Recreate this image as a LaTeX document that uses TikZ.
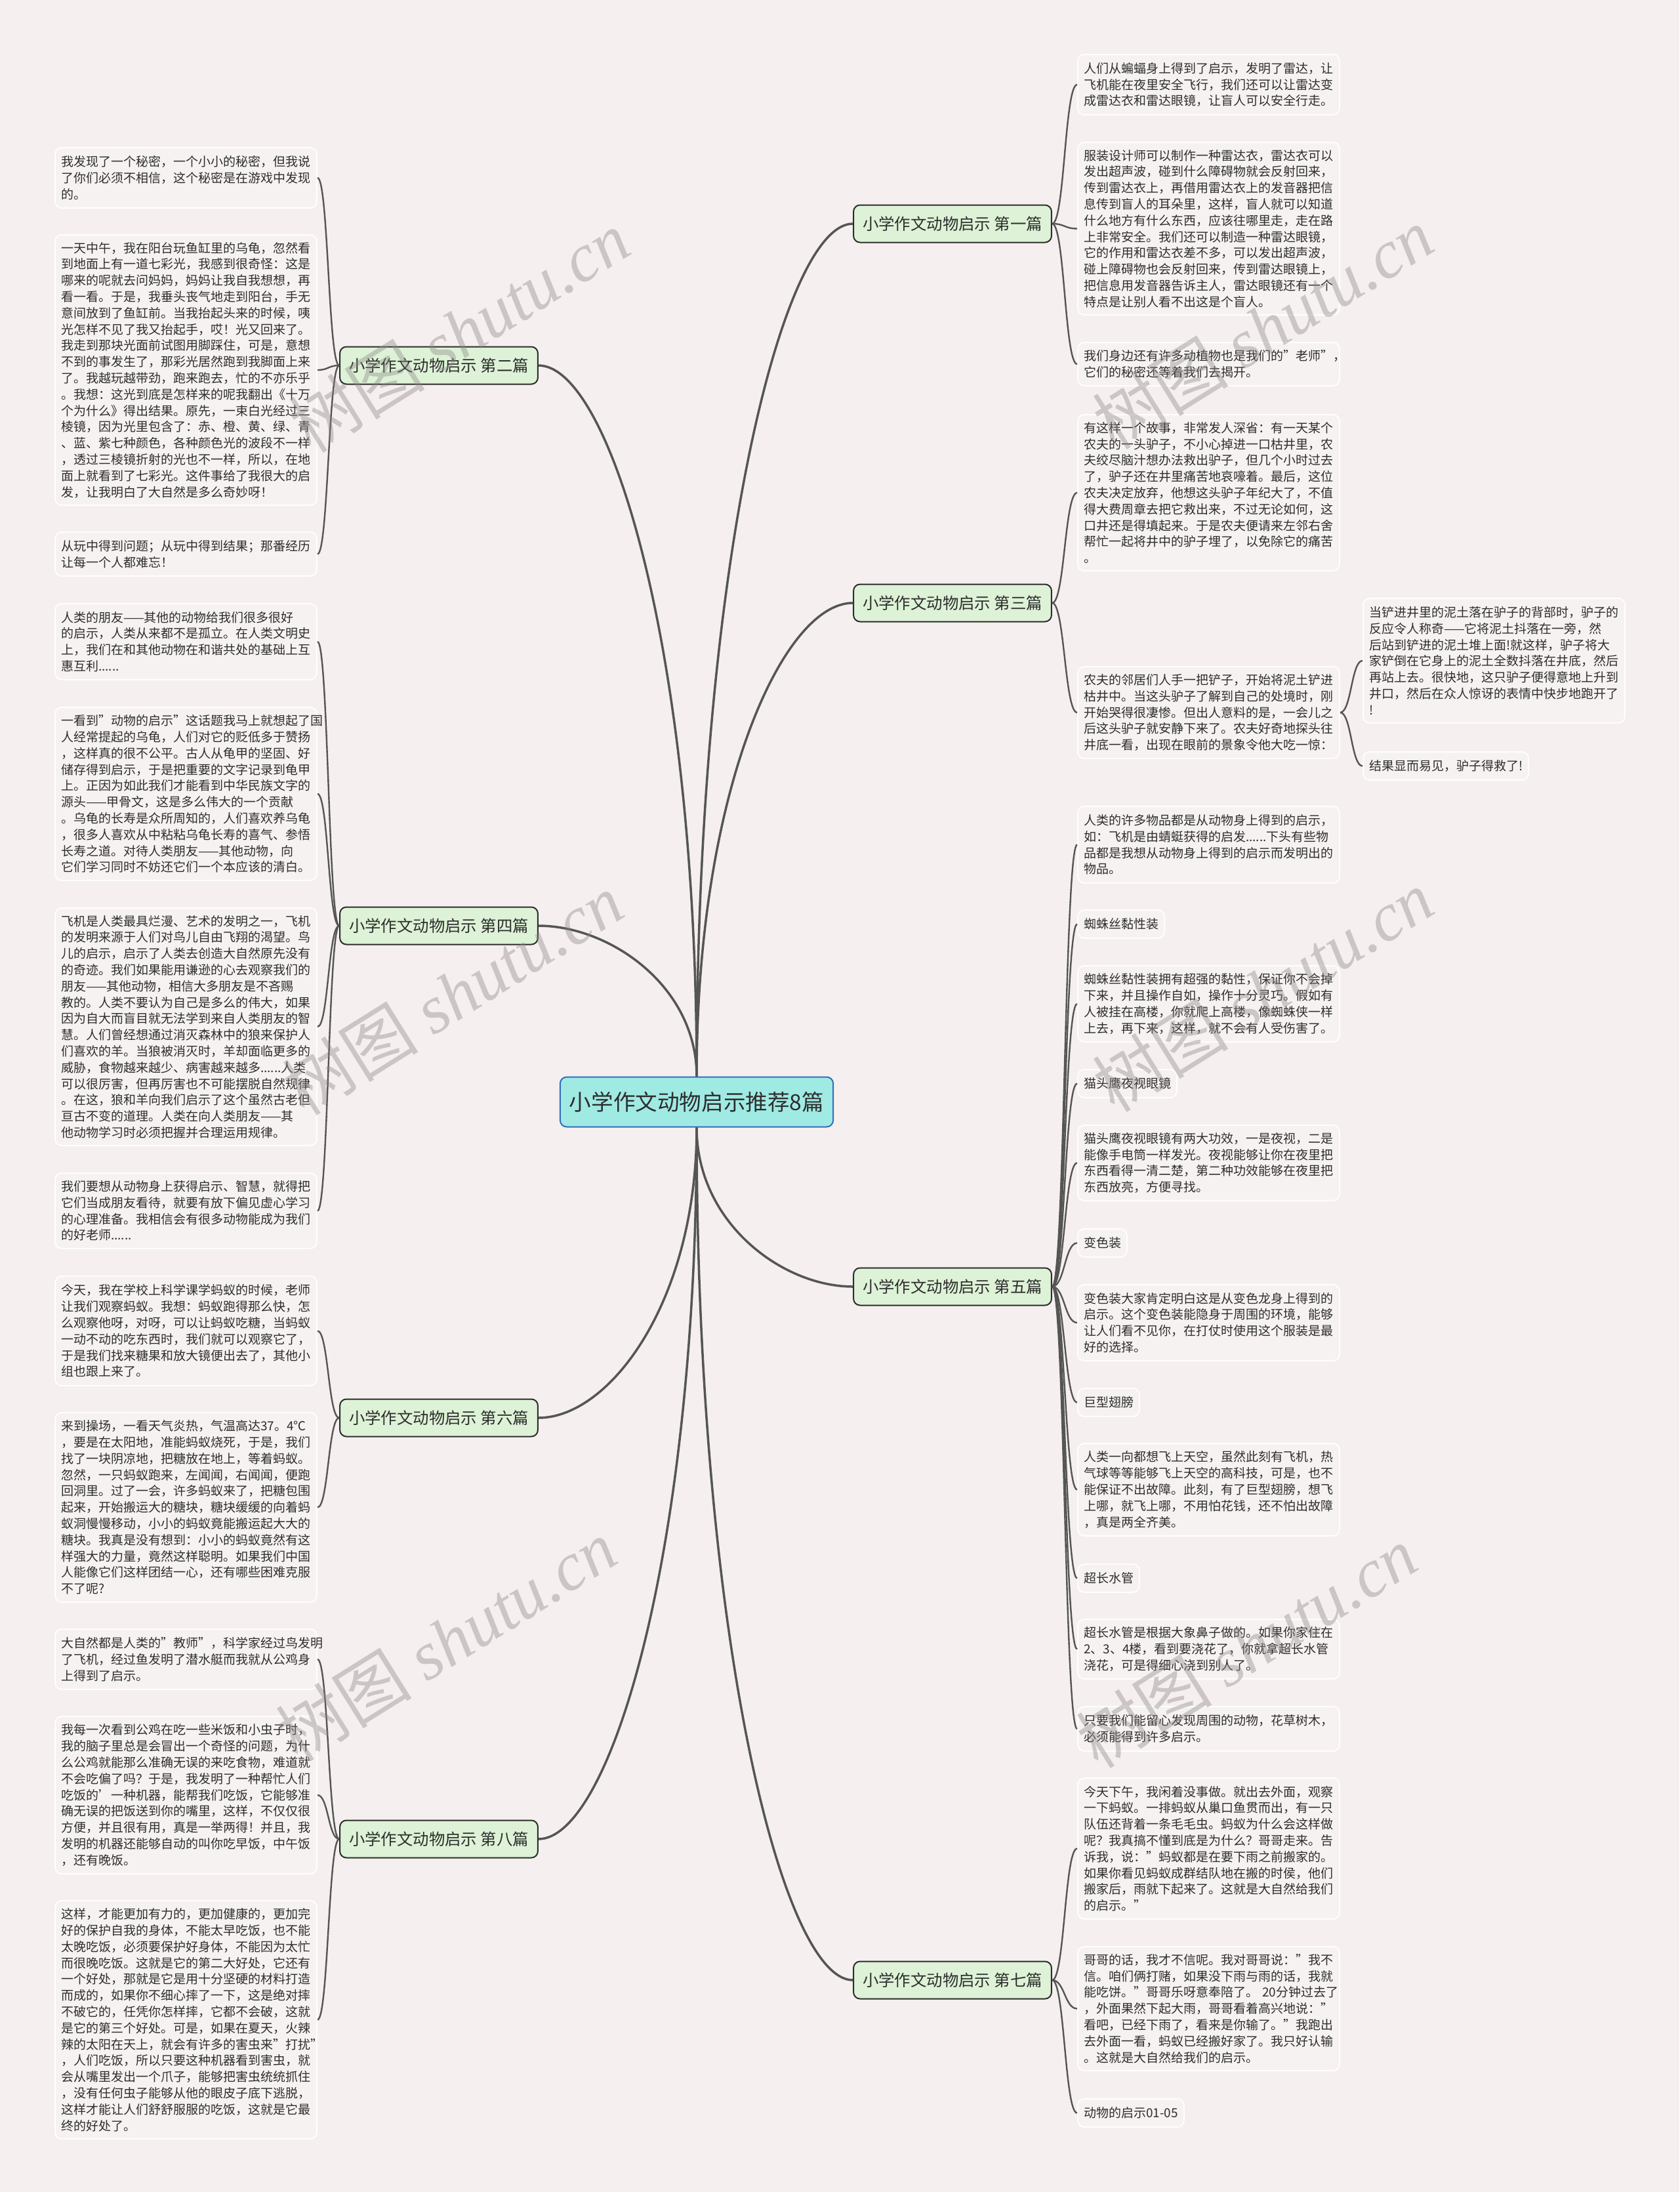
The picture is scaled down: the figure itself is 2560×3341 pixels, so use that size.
\documentclass[tikz,border=0pt]{standalone}
\usepackage{fontspec}
\setmainfont{Noto Sans CJK SC}
\newfontfamily\wmserif{Liberation Serif}
\usetikzlibrary{calc}
\definecolor{bgc}{RGB}{245,239,239}
\definecolor{leaffill}{RGB}{247,242,242}
\definecolor{leafdraw}{RGB}{255,253,253}
\definecolor{branchfill}{RGB}{221,242,214}
\definecolor{branchdraw}{RGB}{45,45,45}
\definecolor{rootfill}{RGB}{160,234,228}
\definecolor{rootdraw}{RGB}{50,110,190}
\definecolor{linec}{RGB}{85,85,85}
\definecolor{txt}{RGB}{45,45,45}
\definecolor{wmgray}{RGB}{140,135,135}
\begin{document}
\begin{tikzpicture}[x=0.5pt,y=-0.5pt,
  leafbase/.style={draw=leafdraw, line width=1pt, fill=leaffill, rounded corners=5pt,
    text=txt, font=\fontsize{9.5pt}{12.4pt}\selectfont, align=left,
    inner xsep=4.5pt, inner ysep=2pt, anchor=north west},
  leaf/.style={leafbase, text width=190.5pt},
  leafshort/.style={leafbase, minimum height=21.5pt},
  branch/.style={draw=branchdraw, line width=1pt, fill=branchfill, rounded corners=5pt,
    text=txt, font=\fontsize{12.2pt}{14pt}\selectfont, minimum width=150pt,
    minimum height=28.5pt, inner xsep=7pt},
  root/.style={draw=rootdraw, line width=1pt, fill=rootfill, rounded corners=5pt,
    text=txt, font=\fontsize{16.8pt}{19pt}\selectfont, minimum width=205.5pt,
    minimum height=38pt, inner xsep=7pt},
  mainline/.style={draw=linec, line width=1.75pt},
  subline/.style={draw=linec, line width=1.2pt},
  mainlink/.style={to path={.. controls ($(\tikztostart)!0.6!(\tikztostart |- \tikztotarget)$) and ($(\tikztotarget)!0.45!(\tikztostart |- \tikztotarget)$) .. (\tikztotarget) \tikztonodes}},
  sublink/.style={to path={.. controls ($(\tikztostart)!0.5!(\tikztotarget |- \tikztostart)$) and ($(\tikztotarget)!0.5!(\tikztostart |- \tikztotarget)$) .. (\tikztotarget) \tikztonodes}},
  wm/.style={text=wmgray, font=\fontsize{52pt}{52pt}\selectfont, rotate=32, inner sep=0pt}
]
\useasboundingbox (0,0) rectangle (2560,3341);
\fill[bgc] (0,0) rectangle (2560,3341);

% root and branches
\node[root] (root) at (1062,1679.5) {小学作文动物启示推荐8篇};
\node[branch] (b1) at (1452,341) {小学作文动物启示 第一篇};
\node[branch] (b2) at (669,557) {小学作文动物启示 第二篇};
\node[branch] (b3) at (1452,919) {小学作文动物启示 第三篇};
\node[branch] (b4) at (669,1411) {小学作文动物启示 第四篇};
\node[branch] (b5) at (1452,1961) {小学作文动物启示 第五篇};
\node[branch] (b6) at (669,2161) {小学作文动物启示 第六篇};
\node[branch] (b7) at (1452,3018) {小学作文动物启示 第七篇};
\node[branch] (b8) at (669,2803) {小学作文动物启示 第八篇};

% ---- left: 第二篇
\node[leaf, minimum height=46pt] (l2a) at (83,224) {我发现了一个秘密，一个小小的秘密，但我说\\了你们必须不相信，这个秘密是在游戏中发现\\的。};
\node[leaf, minimum height=206pt] (l2b) at (83,357) {一天中午，我在阳台玩鱼缸里的乌龟，忽然看\\到地面上有一道七彩光，我感到很奇怪：这是\\哪来的呢就去问妈妈，妈妈让我自我想想，再\\看一看。于是，我垂头丧气地走到阳台，手无\\意间放到了鱼缸前。当我抬起头来的时候，咦\\光怎样不见了我又抬起手，哎！光又回来了。\\我走到那块光面前试图用脚踩住，可是，意想\\不到的事发生了，那彩光居然跑到我脚面上来\\了。我越玩越带劲，跑来跑去，忙的不亦乐乎\\。我想：这光到底是怎样来的呢我翻出《十万\\个为什么》得出结果。原先，一束白光经过三\\棱镜，因为光里包含了：赤、橙、黄、绿、青\\、蓝、紫七种颜色，各种颜色光的波段不一样\\，透过三棱镜折射的光也不一样，所以，在地\\面上就看到了七彩光。这件事给了我很大的启\\发，让我明白了大自然是多么奇妙呀！};
\node[leaf, minimum height=33.5pt] (l2c) at (83,810) {从玩中得到问题；从玩中得到结果；那番经历\\让每一个人都难忘！};

% ---- left: 第四篇
\node[leaf, minimum height=58pt] (l4a) at (83,919) {人类的朋友——其他的动物给我们很多很好\\的启示，人类从来都不是孤立。在人类文明史\\上，我们在和其他动物在和谐共处的基础上互\\惠互利......};
\node[leaf, minimum height=132pt] (l4b) at (83,1077) {一看到"动物的启示"这话题我马上就想起了国\\人经常提起的乌龟，人们对它的贬低多于赞扬\\，这样真的很不公平。古人从龟甲的坚固、好\\储存得到启示，于是把重要的文字记录到龟甲\\上。正因为如此我们才能看到中华民族文字的\\源头——甲骨文，这是多么伟大的一个贡献\\。乌龟的长寿是众所周知的，人们喜欢养乌龟\\，很多人喜欢从中粘粘乌龟长寿的喜气、参悟\\长寿之道。对待人类朋友——其他动物，向\\它们学习同时不妨还它们一个本应该的清白。};
\node[leaf, minimum height=181pt] (l4c) at (83,1383) {飞机是人类最具烂漫、艺术的发明之一，飞机\\的发明来源于人们对鸟儿自由飞翔的渴望。鸟\\儿的启示，启示了人类去创造大自然原先没有\\的奇迹。我们如果能用谦逊的心去观察我们的\\朋友——其他动物，相信大多朋友是不吝赐\\教的。人类不要认为自己是多么的伟大，如果\\因为自大而盲目就无法学到来自人类朋友的智\\慧。人们曾经想通过消灭森林中的狼来保护人\\们喜欢的羊。当狼被消灭时，羊却面临更多的\\威胁，食物越来越少、病害越来越多......人类\\可以很厉害，但再厉害也不可能摆脱自然规律\\。在这，狼和羊向我们启示了这个虽然古老但\\亘古不变的道理。人类在向人类朋友——其\\他动物学习时必须把握并合理运用规律。};
\node[leaf, minimum height=57.5pt] (l4d) at (83,1787) {我们要想从动物身上获得启示、智慧，就得把\\它们当成朋友看待，就要有放下偏见虚心学习\\的心理准备。我相信会有很多动物能成为我们\\的好老师......};

% ---- left: 第六篇
\node[leaf, minimum height=83.5pt] (l6a) at (83,1944) {今天，我在学校上科学课学蚂蚁的时候，老师\\让我们观察蚂蚁。我想：蚂蚁跑得那么快，怎\\么观察他呀，对呀，可以让蚂蚁吃糖，当蚂蚁\\一动不动的吃东西时，我们就可以观察它了，\\于是我们找来糖果和放大镜便出去了，其他小\\组也跟上来了。};
\node[leaf, minimum height=144.5pt] (l6b) at (83,2152) {来到操场，一看天气炎热，气温高达37。4℃\\，要是在太阳地，准能蚂蚁烧死，于是，我们\\找了一块阴凉地，把糖放在地上，等着蚂蚁。\\忽然，一只蚂蚁跑来，左闻闻，右闻闻，便跑\\回洞里。过了一会，许多蚂蚁来了，把糖包围\\起来，开始搬运大的糖块，糖块缓缓的向着蚂\\蚁洞慢慢移动，小小的蚂蚁竟能搬运起大大的\\糖块。我真是没有想到：小小的蚂蚁竟然有这\\样强大的力量，竟然这样聪明。如果我们中国\\人能像它们这样团结一心，还有哪些困难克服\\不了呢?};

% ---- left: 第八篇
\node[leaf, minimum height=46pt] (l8a) at (83,2482) {大自然都是人类的"教师"，科学家经过鸟发明\\了飞机，经过鱼发明了潜水艇而我就从公鸡身\\上得到了启示。};
\node[leaf, minimum height=120pt] (l8b) at (83,2615) {我每一次看到公鸡在吃一些米饭和小虫子时，\\我的脑子里总是会冒出一个奇怪的问题，为什\\么公鸡就能那么准确无误的来吃食物，难道就\\不会吃偏了吗？于是，我发明了一种帮忙人们\\吃饭的'一种机器，能帮我们吃饭，它能够准\\确无误的把饭送到你的嘴里，这样，不仅仅很\\方便，并且很有用，真是一举两得！并且，我\\发明的机器还能够自动的叫你吃早饭，中午饭\\，还有晚饭。};
\node[leaf, minimum height=181.5pt] (l8c) at (83,2896) {这样，才能更加有力的，更加健康的，更加完\\好的保护自我的身体，不能太早吃饭，也不能\\太晚吃饭，必须要保护好身体，不能因为太忙\\而很晚吃饭。这就是它的第二大好处，它还有\\一个好处，那就是它是用十分坚硬的材料打造\\而成的，如果你不细心摔了一下，这是绝对摔\\不破它的，任凭你怎样摔，它都不会破，这就\\是它的第三个好处。可是，如果在夏天，火辣\\辣的太阳在天上，就会有许多的害虫来"打扰"\\，人们吃饭，所以只要这种机器看到害虫，就\\会从嘴里发出一个爪子，能够把害虫统统抓住\\，没有任何虫子能够从他的眼皮子底下逃脱，\\这样才能让人们舒舒服服的吃饭，这就是它最\\终的好处了。};

% ---- right: 第一篇
\node[leaf, minimum height=46pt] (r1a) at (1642,82) {人们从蝙蝠身上得到了启示，发明了雷达，让\\飞机能在夜里安全飞行，我们还可以让雷达变\\成雷达衣和雷达眼镜，让盲人可以安全行走。};
\node[leaf, minimum height=131.5pt] (r1b) at (1642,216) {服装设计师可以制作一种雷达衣，雷达衣可以\\发出超声波，碰到什么障碍物就会反射回来，\\传到雷达衣上，再借用雷达衣上的发音器把信\\息传到盲人的耳朵里，这样，盲人就可以知道\\什么地方有什么东西，应该往哪里走，走在路\\上非常安全。我们还可以制造一种雷达眼镜，\\它的作用和雷达衣差不多，可以发出超声波，\\碰上障碍物也会反射回来，传到雷达眼镜上，\\把信息用发音器告诉主人，雷达眼镜还有一个\\特点是让别人看不出这是个盲人。};
\node[leaf, minimum height=33pt] (r1c) at (1642,521) {我们身边还有许多动植物也是我们的"老师"，\\它们的秘密还等着我们去揭开。};

% ---- right: 第三篇
\node[leaf, minimum height=119pt] (r3a) at (1642,631) {有这样一个故事，非常发人深省：有一天某个\\农夫的一头驴子，不小心掉进一口枯井里，农\\夫绞尽脑汁想办法救出驴子，但几个小时过去\\了，驴子还在井里痛苦地哀嚎着。最后，这位\\农夫决定放弃，他想这头驴子年纪大了，不值\\得大费周章去把它救出来，不过无论如何，这\\口井还是得填起来。于是农夫便请来左邻右舍\\帮忙一起将井中的驴子埋了，以免除它的痛苦\\。};
\node[leaf, minimum height=70pt] (r3b) at (1642,1015) {农夫的邻居们人手一把铲子，开始将泥土铲进\\枯井中。当这头驴子了解到自己的处境时，刚\\开始哭得很凄惨。但出人意料的是，一会儿之\\后这头驴子就安静下来了。农夫好奇地探头往\\井底一看，出现在眼前的景象令他大吃一惊：};
\node[leaf, minimum height=95pt] (r3c) at (2077,911) {当铲进井里的泥土落在驴子的背部时，驴子的\\反应令人称奇——它将泥土抖落在一旁，然\\后站到铲进的泥土堆上面!就这样，驴子将大\\家铲倒在它身上的泥土全数抖落在井底，然后\\再站上去。很快地，这只驴子便得意地上升到\\井口，然后在众人惊讶的表情中快步地跑开了\\!};
\node[leafshort] (r3d) at (2077,1145) {结果显而易见，驴子得救了!};

% ---- right: 第五篇
\node[leaf, minimum height=58.5pt] (r5a) at (1642,1228) {人类的许多物品都是从动物身上得到的启示，\\如：飞机是由蜻蜓获得的启发......下头有些物\\品都是我想从动物身上得到的启示而发明出的\\物品。};
\node[leafshort] (r5b) at (1642,1386) {蜘蛛丝黏性装};
\node[leaf, minimum height=58pt] (r5c) at (1642,1471) {蜘蛛丝黏性装拥有超强的黏性，保证你不会掉\\下来，并且操作自如，操作十分灵巧。假如有\\人被挂在高楼，你就爬上高楼，像蜘蛛侠一样\\上去，再下来，这样，就不会有人受伤害了。};
\node[leafshort] (r5d) at (1642,1629) {猫头鹰夜视眼镜};
\node[leaf, minimum height=57.5pt] (r5e) at (1642,1714) {猫头鹰夜视眼镜有两大功效，一是夜视，二是\\能像手电筒一样发光。夜视能够让你在夜里把\\东西看得一清二楚，第二种功效能够在夜里把\\东西放亮，方便寻找。};
\node[leafshort] (r5f) at (1642,1872) {变色装};
\node[leaf, minimum height=58pt] (r5g) at (1642,1957) {变色装大家肯定明白这是从变色龙身上得到的\\启示。这个变色装能隐身于周围的环境，能够\\让人们看不见你，在打仗时使用这个服装是最\\好的选择。};
\node[leafshort] (r5h) at (1642,2115) {巨型翅膀};
\node[leaf, minimum height=70.5pt] (r5i) at (1642,2199) {人类一向都想飞上天空，虽然此刻有飞机，热\\气球等等能够飞上天空的高科技，可是，也不\\能保证不出故障。此刻，有了巨型翅膀，想飞\\上哪，就飞上哪，不用怕花钱，还不怕出故障\\，真是两全齐美。};
\node[leafshort] (r5j) at (1642,2383) {超长水管};
\node[leaf, minimum height=45.5pt] (r5k) at (1642,2467) {超长水管是根据大象鼻子做的。如果你家住在\\2、3、4楼，看到要浇花了，你就拿超长水管\\浇花，可是得细心浇到别人了。};
\node[leaf, minimum height=34pt] (r5l) at (1642,2600) {只要我们能留心发现周围的动物，花草树木，\\必须能得到许多启示。};

% ---- right: 第七篇
\node[leaf, minimum height=107.5pt] (r7a) at (1642,2709) {今天下午，我闲着没事做。就出去外面，观察\\一下蚂蚁。一排蚂蚁从巢口鱼贯而出，有一只\\队伍还背着一条毛毛虫。蚂蚁为什么会这样做\\呢？我真搞不懂到底是为什么？哥哥走来。告\\诉我，说："蚂蚁都是在要下雨之前搬家的。\\如果你看见蚂蚁成群结队地在搬的时侯，他们\\搬家后，雨就下起来了。这就是大自然给我们\\的启示。"};
\node[leaf, minimum height=94.5pt] (r7b) at (1642,2966) {哥哥的话，我才不信呢。我对哥哥说："我不\\信。咱们俩打赌，如果没下雨与雨的话，我就\\能吃饼。"哥哥乐呀意奉陪了。~20分钟过去了\\，外面果然下起大雨，哥哥看着高兴地说："\\看吧，已经下雨了，看来是你输了。"我跑出\\去外面一看，蚂蚁已经搬好家了。我只好认输\\。这就是大自然给我们的启示。};
\node[leafshort] (r7c) at (1642,3198) {动物的启示01-05};

% ---- main connectors
\draw[mainline] (root.north) to[mainlink] (b1.west);
\draw[mainline] (root.north) to[mainlink] (b2.east);
\draw[mainline] (root.north) to[mainlink] (b3.west);
\draw[mainline] (root.north) to[mainlink] (b4.east);
\draw[mainline] (root.south) to[mainlink] (b5.west);
\draw[mainline] (root.south) to[mainlink] (b6.east);
\draw[mainline] (root.south) to[mainlink] (b7.west);
\draw[mainline] (root.south) to[mainlink] (b8.east);

% ---- sub connectors
\foreach \l in {l2a,l2b,l2c} \draw[subline] (b2.west) to[sublink] (\l.east);
\foreach \l in {l4a,l4b,l4c,l4d} \draw[subline] (b4.west) to[sublink] (\l.east);
\foreach \l in {l6a,l6b} \draw[subline] (b6.west) to[sublink] (\l.east);
\foreach \l in {l8a,l8b,l8c} \draw[subline] (b8.west) to[sublink] (\l.east);
\foreach \l in {r1a,r1b,r1c} \draw[subline] (b1.east) to[sublink] (\l.west);
\foreach \l in {r3a,r3b} \draw[subline] (b3.east) to[sublink] (\l.west);
\foreach \l in {r3c,r3d} \draw[subline] (r3b.east) to[sublink] (\l.west);
\foreach \l in {r5a,r5b,r5c,r5d,r5e,r5f,r5g,r5h,r5i,r5j,r5k,r5l} \draw[subline] (b5.east) to[sublink] (\l.west);
\foreach \l in {r7a,r7b,r7c} \draw[subline] (b7.east) to[sublink] (\l.west);

% ---- watermark
\begin{scope}[opacity=0.4]
\foreach \x/\y [count=\i] in {700/505, 1925/500, 690/1515, 1925/1510, 680/2500, 1900/2510}
  \node[wm] (wm\i) at (\x,\y) {树图 {\wmserif\itshape shutu.cn}};
\end{scope}
\end{tikzpicture}
\end{document}
